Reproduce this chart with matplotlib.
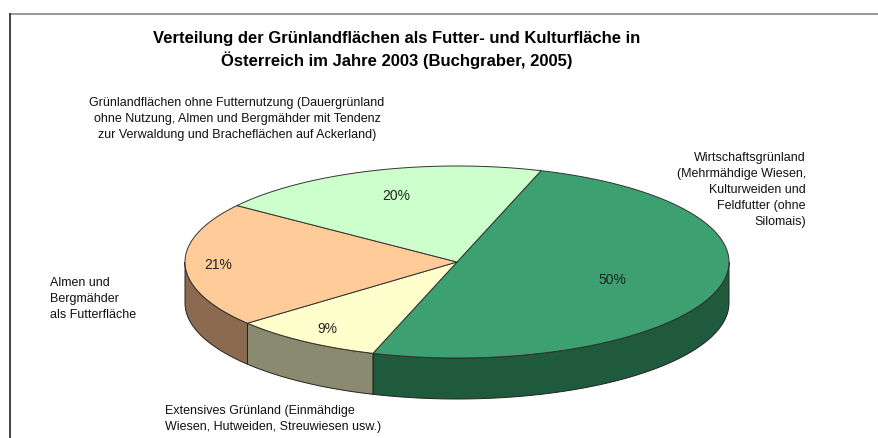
import numpy as np
import matplotlib.pyplot as plt
from matplotlib.patches import Polygon

# shares of grassland (percent), clockwise from the top
shares = [50, 9, 21, 20]
pct_labels = ['50%', '9%', '21%', '20%']
top_colors = ['#3ca070', '#ffffcc', '#ffcc99', '#ccffcc']
side_colors = ['#1f5a3c', '#8a8a70', '#8c6a50', '#7aa07a']
title = ("Verteilung der Grünlandflächen als Futter- und Kulturfläche in\n"
         "Österreich im Jahre 2003 (Buchgraber, 2005)")
cat_names = [
    "Wirtschaftsgrünland\n(Mehrmähdige Wiesen,\nKulturweiden und\nFeldfutter (ohne\nSilomais)",
    "Extensives Grünland (Einmähdige\nWiesen, Hutweiden, Streuwiesen usw.)",
    "Almen und\nBergmähder\nals Futterfläche",
    "Grünlandflächen ohne Futternutzung (Dauergrünland\nohne Nutzung, Almen und Bergmähder mit Tendenz\nzur Verwaldung und Bracheflächen auf Ackerland)",
]

plt.rcParams['font.family'] = ['Liberation Sans', 'DejaVu Sans']

fig = plt.figure(figsize=(8.79, 4.38), dpi=100)
ax = fig.add_axes([0, 0, 1, 1])
ax.set_xlim(0, 879)
ax.set_ylim(438, 0)
ax.axis('off')

# pie geometry in pixels
cx, cy = 457, 262
ra, rb = 272, 96
depth = 41
start = 72.0


def pt(theta, dz=0):
    t = np.radians(theta)
    return cx + ra * np.cos(t), cy - rb * np.sin(t) + dz


# slice angle ranges (clockwise)
angles = []
a0 = start
for s in shares:
    a1 = a0 - 360.0 * s / sum(shares)
    angles.append((a0, a1))
    a0 = a1

# side walls: only the front half (angles 180..360) is visible
for (a0, a1), col in zip(angles, side_colors):
    lo, hi = min(a0, a1), max(a0, a1)
    lo, hi = lo % 360, lo % 360 + (hi - lo)
    seg_lo = max(lo, 180)
    seg_hi = min(hi, 360)
    if seg_hi <= seg_lo:
        continue
    th = np.linspace(seg_lo, seg_hi, 80)
    top = [pt(t) for t in th]
    bot = [pt(t, depth) for t in th[::-1]]
    ax.add_patch(Polygon(top + bot, closed=True, fc=col, ec='#222222', lw=0.7))

# top surface wedges
for (a0, a1), col in zip(angles, top_colors):
    th = np.linspace(a0, a1, 150)
    verts = [(cx, cy)] + [pt(t) for t in th]
    ax.add_patch(Polygon(verts, closed=True, fc=col, ec='#333333', lw=0.7))

# percentage labels
label_r = [0.6, 0.85, 0.88, 0.72]
for (a0, a1), lab, r in zip(angles, pct_labels, label_r):
    mid = np.radians((a0 + a1) / 2)
    x = cx + r * ra * np.cos(mid)
    y = cy - r * rb * np.sin(mid)
    ax.text(x, y, lab, ha='center', va='center', fontsize=10, color='#222222')

# category labels
lab_fs = 9
lab_ls = 1.45
ax.text(806, 190, cat_names[0], ha='right', va='center', fontsize=lab_fs,
        multialignment='right', linespacing=lab_ls, color='#111111')
ax.text(165, 419, cat_names[1], ha='left', va='center', fontsize=lab_fs,
        linespacing=lab_ls, color='#111111')
ax.text(50, 299, cat_names[2], ha='left', va='center', fontsize=lab_fs,
        linespacing=lab_ls, color='#111111')
ax.text(237, 119, cat_names[3], ha='center', va='center', fontsize=lab_fs,
        linespacing=lab_ls, color='#111111')

ax.text(397, 50, title, ha='center', va='center', fontsize=12,
        fontweight='bold', linespacing=1.35, color='#000000')

# chart frame lines
ax.plot([10, 879], [13.5, 13.5], color='#888888', lw=1.2)
ax.plot([10.5, 10.5], [13.5, 438], color='#222222', lw=1.2)

fig.savefig('out.png', dpi=100)
